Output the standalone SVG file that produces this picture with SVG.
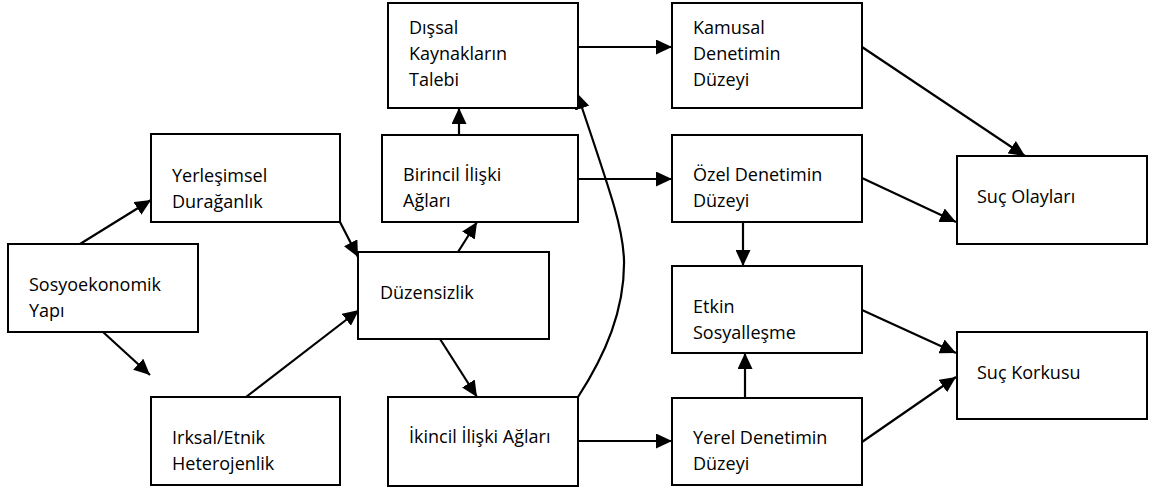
<svg xmlns="http://www.w3.org/2000/svg" width="1152" height="490" viewBox="0 0 1152 490">
<style>
.box{fill:#fff;stroke:#000;stroke-width:2}
.t{font-family:"Open Sans","Liberation Sans",sans-serif;font-size:18px;fill:#000}
.c{fill:none;stroke:#000;stroke-width:2.2}
</style>
<defs>
<marker id="ah" markerUnits="userSpaceOnUse" markerWidth="16" markerHeight="15" refX="16" refY="7.5" orient="auto" viewBox="0 0 16 15">
<path d="M0,0 L16,7.5 L0,15 z" fill="#000"/>
</marker>
</defs>
<rect width="1152" height="490" fill="#fff"/>
<g id="connectors">
<line class="c" x1="80" y1="244" x2="151" y2="200" marker-end="url(#ah)"/>
<line class="c" x1="103" y1="332" x2="150" y2="375" marker-end="url(#ah)"/>
<line class="c" x1="340" y1="222" x2="358" y2="257" marker-end="url(#ah)"/>
<line class="c" x1="246" y1="397" x2="359" y2="310" marker-end="url(#ah)"/>
<line class="c" x1="458" y1="252" x2="477" y2="222" marker-end="url(#ah)"/>
<line class="c" x1="440" y1="339" x2="477" y2="397" marker-end="url(#ah)"/>
<line class="c" x1="459" y1="135" x2="459" y2="108" marker-end="url(#ah)"/>
<line class="c" x1="578" y1="47" x2="672" y2="47" marker-end="url(#ah)"/>
<line class="c" x1="578" y1="179" x2="672" y2="179" marker-end="url(#ah)"/>
<line class="c" x1="578" y1="441" x2="672" y2="441" marker-end="url(#ah)"/>
<path class="c" d="M578,397 C605,355 625,310 624,260 C623,230 615,205 577,93" marker-end="url(#ah)"/>
<line class="c" x1="743" y1="222" x2="743" y2="266" marker-end="url(#ah)"/>
<line class="c" x1="745" y1="398" x2="745" y2="353" marker-end="url(#ah)"/>
<line class="c" x1="862" y1="47" x2="1025" y2="156" marker-end="url(#ah)"/>
<line class="c" x1="862" y1="178" x2="956" y2="222" marker-end="url(#ah)"/>
<line class="c" x1="862" y1="310" x2="956" y2="353" marker-end="url(#ah)"/>
<line class="c" x1="862" y1="442" x2="956" y2="377" marker-end="url(#ah)"/>
</g>
<g id="sosyoekonomik">
<rect class="box" x="8" y="244" width="190" height="88"/>
<text class="t" x="29" y="291">Sosyoekonomik</text>
<text class="t" x="29" y="317">Yapı</text>
</g>
<g id="yerlesimsel">
<rect class="box" x="151" y="134" width="189" height="88"/>
<text class="t" x="172" y="182">Yerleşimsel</text>
<text class="t" x="172" y="208">Durağanlık</text>
</g>
<g id="irksal">
<rect class="box" x="151" y="397" width="189" height="88"/>
<text class="t" x="172" y="444">Irksal/Etnik</text>
<text class="t" x="172" y="470">Heterojenlik</text>
</g>
<g id="duzensizlik">
<rect class="box" x="358" y="252" width="191" height="87"/>
<text class="t" x="380" y="299">Düzensizlik</text>
</g>
<g id="dissal">
<rect class="box" x="388" y="3" width="190" height="105"/>
<text class="t" x="409" y="34">Dışsal</text>
<text class="t" x="409" y="60">Kaynakların</text>
<text class="t" x="409" y="86">Talebi</text>
</g>
<g id="birincil">
<rect class="box" x="382" y="135" width="196" height="87"/>
<text class="t" x="403" y="181">Birincil İlişki</text>
<text class="t" x="403" y="207">Ağları</text>
</g>
<g id="ikincil">
<rect class="box" x="388" y="397" width="190" height="89"/>
<text class="t" x="409" y="443">İkincil İlişki Ağları</text>
</g>
<g id="kamusal">
<rect class="box" x="672" y="3" width="190" height="105"/>
<text class="t" x="693" y="34">Kamusal</text>
<text class="t" x="693" y="60">Denetimin</text>
<text class="t" x="693" y="86">Düzeyi</text>
</g>
<g id="ozel">
<rect class="box" x="672" y="135" width="190" height="87"/>
<text class="t" x="693" y="181">Özel Denetimin</text>
<text class="t" x="693" y="207">Düzeyi</text>
</g>
<g id="etkin">
<rect class="box" x="672" y="266" width="190" height="87"/>
<text class="t" x="693" y="313">Etkin</text>
<text class="t" x="693" y="339">Sosyalleşme</text>
</g>
<g id="yerel">
<rect class="box" x="672" y="398" width="190" height="87"/>
<text class="t" x="693" y="444">Yerel Denetimin</text>
<text class="t" x="693" y="470">Düzeyi</text>
</g>
<g id="suc-olaylari">
<rect class="box" x="957" y="156" width="190" height="88"/>
<text class="t" x="977" y="203">Suç Olayları</text>
</g>
<g id="suc-korkusu">
<rect class="box" x="957" y="332" width="190" height="87"/>
<text class="t" x="977" y="379">Suç Korkusu</text>
</g>
</svg>
